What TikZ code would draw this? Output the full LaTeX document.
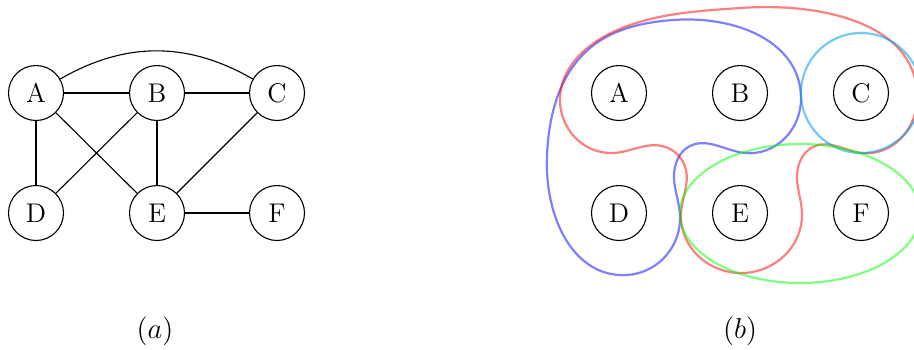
\documentclass[tikz,border=0pt]{standalone}
\usetikzlibrary{shapes.geometric,hobby}
\definecolor{skyc}{RGB}{0,160,230}
\begin{document}
\begin{tikzpicture}[x=0.5pt,y=-0.5pt,
  vtx/.style={circle,draw,line width=0.55pt,minimum size=27.5pt,inner sep=0pt,font=\fontsize{13.5}{16}\selectfont},
  edge/.style={line width=0.55pt},
  hyper/.style={line width=1.1pt,draw opacity=0.5}]
\useasboundingbox (0,0) rectangle (914,349);
\clip (0,0) rectangle (914,349);
% (a)
\node[vtx] (A) at (36,93) {A};
\node[vtx] (B) at (157,93) {B};
\node[vtx] (C) at (277,93) {C};
\node[vtx] (D) at (36,213) {D};
\node[vtx] (E) at (157,213) {E};
\node[vtx] (F) at (277,213) {F};
\draw[edge] (A) -- (B);
\draw[edge] (B) -- (C);
\draw[edge] (A) -- (D);
\draw[edge] (A) -- (E);
\draw[edge] (B) -- (D);
\draw[edge] (B) -- (E);
\draw[edge] (C) -- (E);
\draw[edge] (E) -- (F);
\draw[edge] (A) to[bend left=30] (C);
\node[font=\fontsize{13.5}{16}\selectfont] (la) at (155,331) {$(a)$};
% (b)
\node[vtx] (A2) at (619,93) {A};
\node[vtx] (B2) at (740,93) {B};
\node[vtx] (C2) at (861,93) {C};
\node[vtx] (D2) at (619,213) {D};
\node[vtx] (E2) at (740,213) {E};
\node[vtx] (F2) at (861,213) {F};
\node[font=\fontsize{13.5}{16}\selectfont] (lb) at (740,331) {$(b)$};
% hyperedges
\draw[hyper,blue,use Hobby shortcut,closed=true]
  (673,20) .. (801,97) .. (745,153) .. (690,146) .. (674,178) .. (680,215)
  .. (627,275) .. (547,155) .. (590,48);
\draw[hyper,red,use Hobby shortcut,closed=true]
  (740,8) .. (917,100) .. (862,153) .. (815,146) .. (797,178) .. (802,213)
  .. (743,273) .. (681,213) .. (686,170) .. (662,146) .. (613,153)
  .. (560,97) .. (615,31);
\draw[hyper,skyc,draw opacity=0.55] (C2.center) circle[radius=60];
\draw[hyper,green] (800,213.5) ellipse[x radius=120,y radius=69.5];
\end{tikzpicture}
\end{document}
